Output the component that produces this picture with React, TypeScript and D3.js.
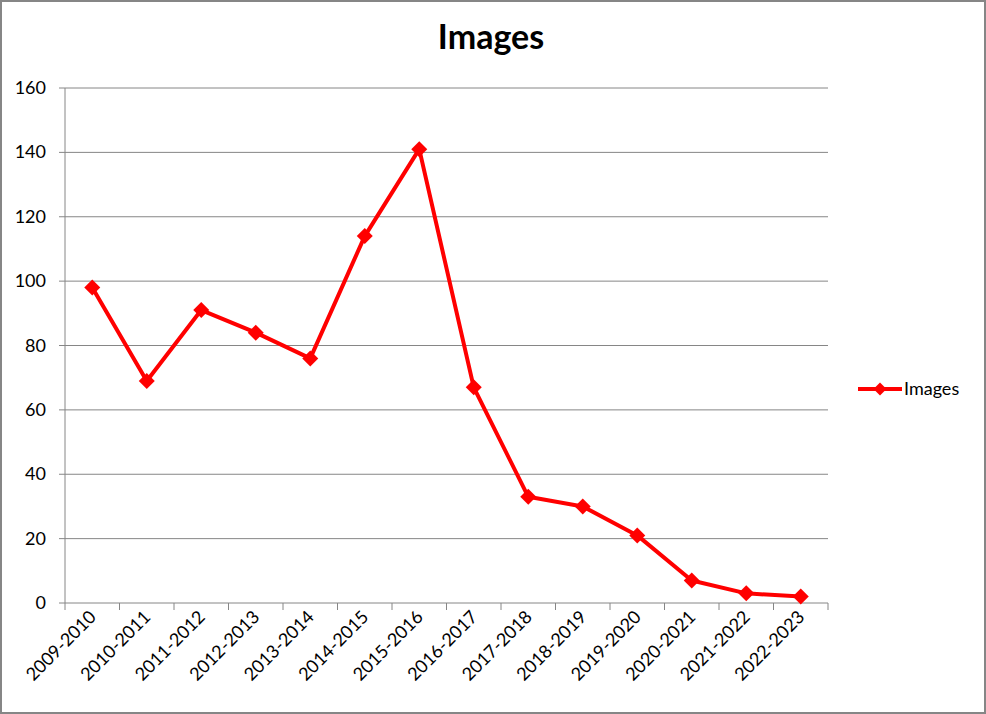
import React from "react";
import * as d3 from "d3";

const categories = ["2009-2010","2010-2011","2011-2012","2012-2013","2013-2014","2014-2015","2015-2016","2016-2017","2017-2018","2018-2019","2019-2020","2020-2021","2021-2022","2022-2023"];
const values = [98, 69, 91, 84, 76, 114, 141, 67, 33, 30, 21, 7, 3, 2];
const yTicks = [0, 20, 40, 60, 80, 100, 120, 140, 160];
const seriesName = "Images";

export default function App() {
  const W = 986, H = 714;
  const left = 65, right = 828, top = 88, bottom = 603;
  const x = d3.scaleBand<string>().domain(categories).range([left, right]);
  const y = d3.scaleLinear().domain([0, 160]).range([bottom, top]);
  const line = d3.line<number>().x((_, i) => x(categories[i])! + x.bandwidth() / 2).y(d => y(d));
  const font = "Lato, 'Noto Sans', sans-serif";
  const diamond = (cx: number, cy: number, r = 8) => `M${cx},${cy - r}L${cx + r},${cy}L${cx},${cy + r}L${cx - r},${cy}Z`;
  const bounds = [...categories.map(c => x(c)!), right];
  return (
    <svg width={W} height={H} style={{ position: "absolute", left: 0, top: 0 }}>
      <rect x={1} y={1} width={W - 2} height={H - 2} fill="white" stroke="#868686" strokeWidth={2} />
      <text x={491} y={49} textAnchor="middle" fontFamily={font} fontWeight="bold" fontSize={34} fill="#000">{seriesName}</text>
      {yTicks.map(t => (
        <g key={t}>
          <line x1={left - 6} x2={right} y1={y(t)} y2={y(t)} stroke="#868686" strokeWidth={1} />
          <text x={46} y={y(t) + 6} textAnchor="end" fontFamily={font} fontSize={18} fill="#000">{t}</text>
        </g>
      ))}
      <line x1={left} x2={left} y1={top} y2={bottom} stroke="#868686" strokeWidth={1} />
      {bounds.map((b, i) => (
        <line key={i} x1={b} x2={b} y1={bottom} y2={bottom + 7} stroke="#868686" strokeWidth={1} />
      ))}
      {categories.map(c => {
        const cx = x(c)! + x.bandwidth() / 2 + 5;
        const cy = bottom + 15;
        return (
          <text key={c} x={cx} y={cy} transform={`rotate(-45 ${cx} ${cy})`} textAnchor="end" fontFamily={font} fontSize={18} fill="#000">{c}</text>
        );
      })}
      <path d={line(values) ?? ""} fill="none" stroke="#ff0000" strokeWidth={4} strokeLinejoin="round" />
      {values.map((v, i) => (
        <path key={i} d={diamond(x(categories[i])! + x.bandwidth() / 2, y(v))} fill="#ff0000" />
      ))}
      <line x1={858} x2={902} y1={389} y2={389} stroke="#ff0000" strokeWidth={4} />
      <path d={diamond(880, 389, 6.5)} fill="#ff0000" />
      <text x={904} y={395} fontFamily={font} fontSize={18} fill="#000">{seriesName}</text>
    </svg>
  );
}
